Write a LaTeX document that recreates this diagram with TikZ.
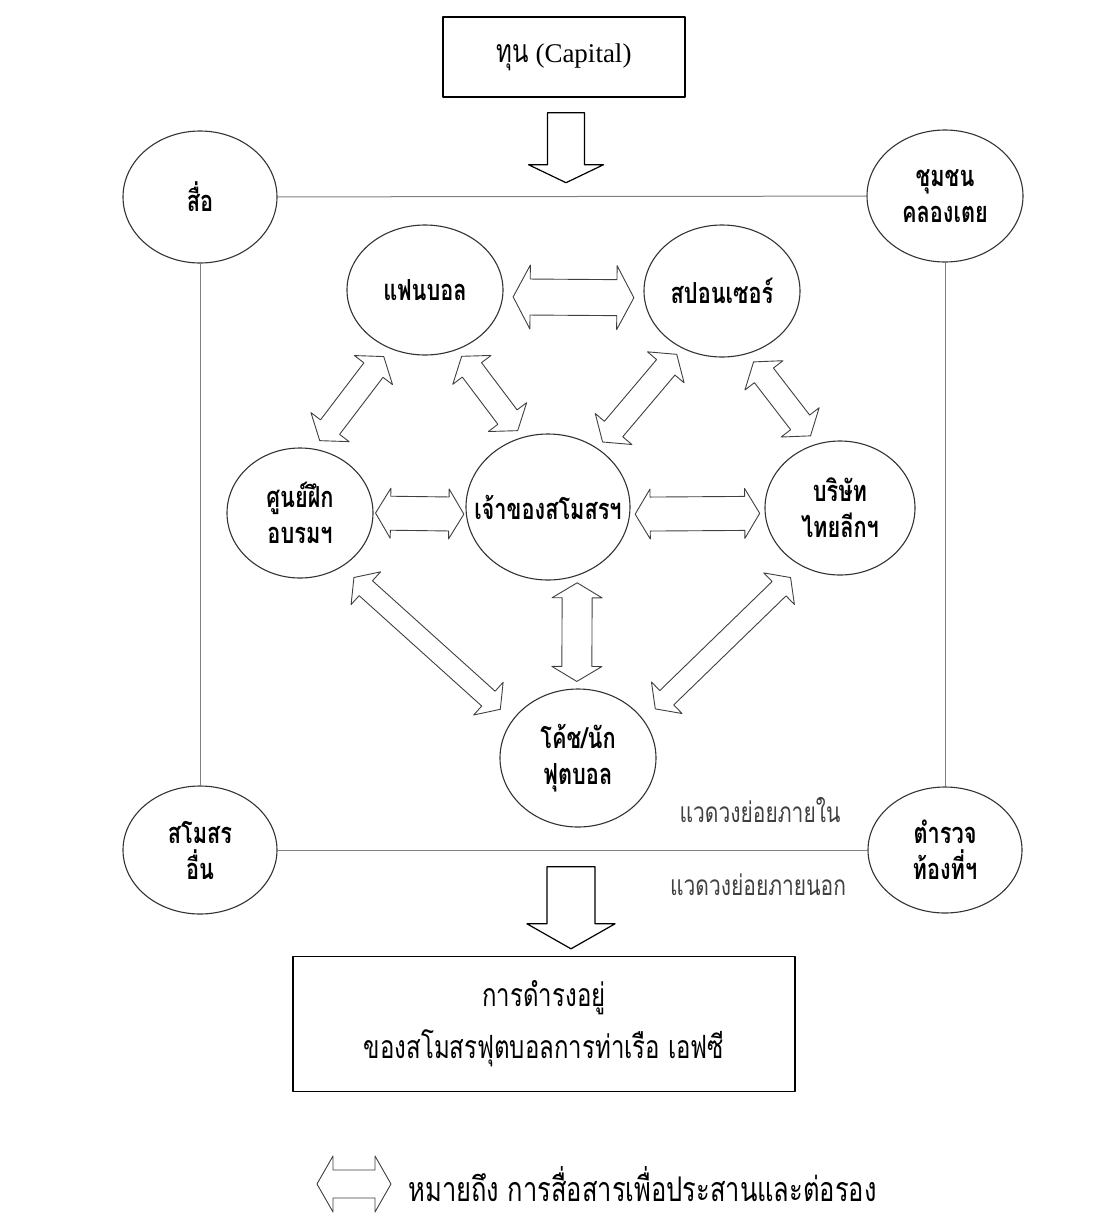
\documentclass[tikz,border=0pt]{standalone}
\usepackage{fontspec}
\setmainfont{Liberation Serif}
\newfontfamily\thai[Script=Thai,FakeStretch=0.75]{Loma}
\usetikzlibrary{shapes.geometric,calc,positioning}

% two-headed block arrow: [gap]{from}{to}{half shaft}{half head}{head length}
\newcommand{\twoway}[6][8pt]{%
  \coordinate (twA) at ($(#2)!#1!(#3)$);
  \coordinate (twB) at ($(#3)!#1!(#2)$);
  \coordinate (twa) at ($(twA)!#6pt!(twB)$);
  \coordinate (twb) at ($(twB)!#6pt!(twA)$);
  \draw[link] (twA) -- ($(twa)!#5pt!90:(twB)$) -- ($(twa)!#4pt!90:(twB)$)
    -- ($(twb)!#4pt!-90:(twA)$) -- ($(twb)!#5pt!-90:(twA)$) -- (twB)
    -- ($(twb)!#5pt!90:(twA)$) -- ($(twb)!#4pt!90:(twA)$)
    -- ($(twa)!#4pt!-90:(twB)$) -- ($(twa)!#5pt!-90:(twB)$) -- cycle;
}

\begin{document}
\begin{tikzpicture}[x=1pt,y=-1pt,line cap=round,line join=round,
  party/.style={ellipse,draw=black!80,line width=1.1pt,inner sep=0pt},
  every label/.style={align=center,inner sep=0pt,font=\fontsize{29}{36}\thai\bfseries},
  frame/.style={draw=black,line width=1.4pt,inner sep=0pt,align=center},
  ring/.style={draw=black!50,line width=1pt},
  link/.style={draw=black!75,line width=0.9pt,fill=white},
  flow/.style={draw=black,line width=1.2pt,fill=white},
  note/.style={text=black!75,font=\fontsize{28}{30}\thai}]
\useasboundingbox (0,0) rectangle (1094,1219);

\node[frame,minimum width=242,minimum height=80,font=\fontsize{27}{32}\selectfont] (capital) at (564,57) {{\fontsize{32}{32}\thai ทุน} (Capital)};

% outer circle of actors
\node[party,minimum width=154,minimum height=132,label=center:สื่อ] (media) at (200,197) {};
\node[party,minimum width=156,minimum height=132,label=center:{ชุมชน\\คลองเตย}] (village) at (945,196) {};
\node[party,minimum width=154,minimum height=128,label=center:{สโมสร\\อื่น}] (clubs) at (200,850) {};
\node[party,minimum width=154,minimum height=126,label=center:{ตำรวจ\\ท้องที่ฯ}] (police) at (945,850) {};
\draw[ring] (media) -- (village);
\draw[ring] (media) -- (clubs);
\draw[ring] (village) -- (police);
\draw[ring] (clubs) -- (police);

% inner circle of actors
\node[party,minimum width=156,minimum height=130,label=center:แฟนบอล] (fans) at (425,290) {};
\node[party,minimum width=156,minimum height=132,label=center:สปอนเซอร์] (sponsor) at (722,291) {};
\node[party,minimum width=146,minimum height=130,label=center:{ศูนย์ฝึก\\อบรมฯ}] (train) at (300,513) {};
\node[party,minimum width=164,minimum height=146,label=center:เจ้าของสโมสรฯ] (owner) at (548,507) {};
\node[party,minimum width=150,minimum height=134,label=center:{บริษัท\\ไทยลีกฯ}] (league) at (840,508) {};
\node[party,minimum width=156,minimum height=138,label=center:{โค้ช/นัก\\ฟุตบอล}] (coach) at (578,758) {};

\twoway[10pt]{fans.-5}{sponsor.185}{18}{32}{17}
\twoway[2pt]{train.0}{owner.185}{17}{25}{15}
\twoway[5pt]{owner.-5}{league.184}{17}{25}{15}
\twoway[7pt]{owner.-67}{coach.91}{15}{25}{15}
\twoway[16pt]{train.-52}{coach.150}{10}{22}{16}
\twoway[16pt]{league.-123}{coach.30}{10}{22}{16}
\twoway[10pt]{fans.-121}{train.78}{12}{24}{17}
\twoway[8pt]{fans.-62}{owner.110}{12}{24}{17}
\twoway[8pt]{sponsor.-125}{owner.50}{12}{24}{17}
\twoway[10pt]{sponsor.-68}{league.110}{12}{24}{17}

\node[note] (inner) at (760,810) {แวดวงย่อยภายใน};
\node[note] (outer) at (758,885) {แวดวงย่อยภายนอก};

\node[frame,minimum width=502,minimum height=135,font=\fontsize{32}{52}\thai] (result) at (544,1024) {การดำรงอยู่\\ของสโมสรฟุตบอลการท่าเรือ เอฟซี};

\draw[flow] ($(capital.south)+(2,15)$) ++(-18.5,0) -- ++(37,0) -- ++(0,52) -- ++(19,0) -- ++(-37.5,18) -- ++(-37.5,-18) -- ++(19,0) -- cycle;
\draw[flow] ($(result.north)+(27,-89)$) ++(-24,0) -- ++(48,0) -- ++(0,57) -- ++(20,0) -- ++(-44,25) -- ++(-44,-25) -- ++(20,0) -- cycle;

% legend
\node[anchor=west,font=\fontsize{34}{40}\thai] (legend) at (405,1184) {หมายถึง การสื่อสารเพื่อประสานและต่อรอง};
\coordinate (keyL) at ($(legend.west)+(-88,0)$);
\coordinate (keyR) at ($(legend.west)+(-14,0)$);
\twoway[0pt]{keyL}{keyR}{14}{28}{16}
\end{tikzpicture}
\end{document}
